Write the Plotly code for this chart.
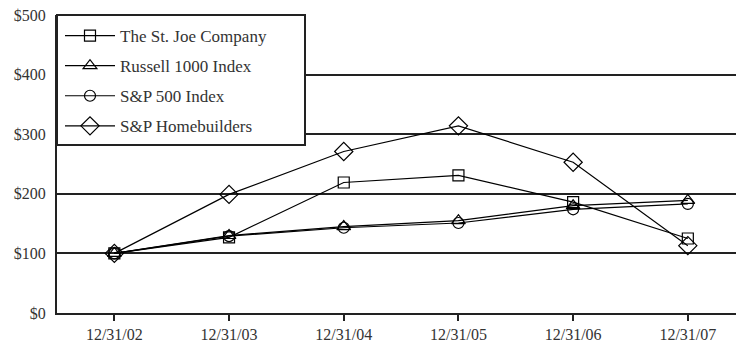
import plotly.graph_objects as go

dates = ["12/31/02", "12/31/03", "12/31/04", "12/31/05", "12/31/06", "12/31/07"]
st_joe = [100, 127, 219, 231, 186, 125]
russell = [100, 130, 145, 155, 180, 189]
sp500 = [100, 129, 143, 151, 174, 183]
homebuilders = [100, 199, 271, 314, 253, 113]

series = [
    ("The St. Joe Company", st_joe, "square-open", 11),
    ("Russell 1000 Index", russell, "triangle-up-open", 12),
    ("S&P 500 Index", sp500, "circle-open", 11),
    ("S&P Homebuilders", homebuilders, "diamond-open", 14),
]

fig = go.Figure()
for i, (name, vals, sym, sz) in enumerate(series):
    fig.add_trace(go.Scatter(
        x=dates, y=vals, name=name, mode="lines+markers",
        line=dict(color="black", width=1.2),
        marker=dict(symbol=sym, size=sz, color="black",
                    line=dict(color="black", width=1.2)),
        legendgroup=f"g{i}",
    ))

font = "Liberation Serif, Times New Roman, serif"
H = 344 - 15 - 31
W = 736 - 57

# legend frame (paper coordinates)
fig.add_shape(type="rect", xref="paper", yref="paper",
              x0=0, x1=(305 - 57) / W, y0=1 - (145 - 15) / H, y1=1,
              fillcolor="white", line=dict(color="#222", width=2),
              layer="above")

fig.update_layout(
    width=736, height=344,
    margin=dict(l=57, r=0, t=15, b=31),
    paper_bgcolor="white", plot_bgcolor="white",
    font=dict(family=font, size=17, color="#333"),
    showlegend=True,
    legend=dict(
        x=3 / W, y=1 - 3 / H, xanchor="left", yanchor="top",
        bgcolor="rgba(0,0,0,0)", borderwidth=0,
        font=dict(family=font, size=17, color="#333"),
        traceorder="grouped", tracegroupgap=5,
        itemwidth=50,
    ),
    xaxis=dict(
        type="category", range=[-0.5, 5.42],
        showgrid=False, showline=True, linecolor="#222", linewidth=2,
        ticks="outside", ticklen=6, tickcolor="#222", tickwidth=1.5,
        tickfont=dict(family=font, size=16, color="#333"),
        zeroline=False,
    ),
    yaxis=dict(
        range=[0, 500], tickvals=[0, 100, 200, 300, 400, 500],
        ticktext=["$0", "$100", "$200", "$300", "$400", "$500"],
        showgrid=True, gridcolor="#222", gridwidth=2,
        showline=True, linecolor="#222", linewidth=2,
        ticks="", ticklabelstandoff=6,
        tickfont=dict(family=font, size=16, color="#333"),
        zeroline=False,
    ),
)

fig.write_html("out.html")
